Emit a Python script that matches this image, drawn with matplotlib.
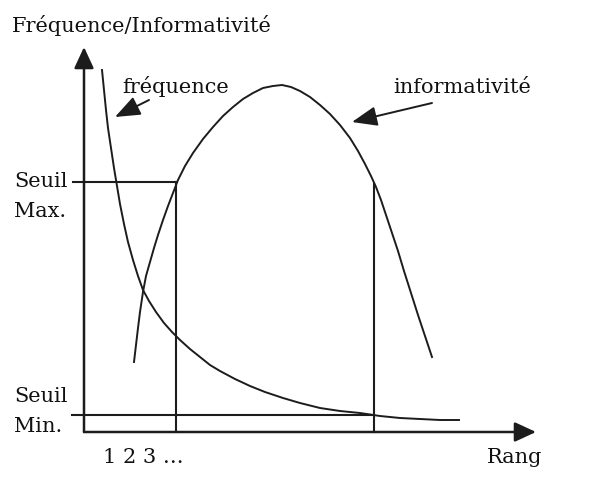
import matplotlib
matplotlib.use("Agg")
import matplotlib.pyplot as plt

# ---- data (diagram coordinates, y grows downward) ----
freq_x = [102, 104, 106, 108, 111, 114, 117, 120, 124, 128, 133, 138, 143, 149,
          156, 164, 172, 180, 190, 200, 210, 220, 235, 250, 265, 283, 300, 320,
          340, 360, 380, 400, 420, 440, 459]
freq_y = [70, 90, 110, 128, 148, 168, 186, 204, 224, 242, 260, 276, 290, 301,
          312, 323, 332, 340, 349, 357, 365, 371, 379, 386, 392, 398, 403, 408,
          411, 413, 416, 418, 419, 420, 420]

info_x = [134, 136, 138, 140, 143, 146, 150, 154, 158, 163, 168, 173, 178, 185,
          193, 203, 213, 223, 233, 243, 253, 263, 273, 282, 291, 300, 310, 320,
          330, 340, 350, 358, 365, 371, 376, 381, 386, 392, 398, 404, 411, 418,
          425, 432]
info_y = [362, 345, 328, 312, 292, 276, 262, 248, 235, 220, 206, 193, 180, 166,
          153, 139, 127, 116, 107, 99, 93, 88, 86, 85, 87, 91, 97, 105,
          114, 125, 138, 151, 164, 176, 187, 200, 215, 233, 251, 271, 293, 315,
          336, 357]

origin = (84, 432)
x_end = 536
y_end = 47
seuil_max = 182
seuil_min = 415
rang_lo = 176
rang_hi = 374

title = "Fréquence/Informativité"
lbl_freq = "fréquence"
lbl_info = "informativité"
lbl_max = ["Seuil", "Max."]
lbl_min = ["Seuil", "Min."]
lbl_ranks = "1 2 3 \u2026"
lbl_rang = "Rang"

# ---- drawing ----
W, H = 592, 491
fig = plt.figure(figsize=(W / 100, H / 100), dpi=100)
ax = fig.add_axes([0, 0, 1, 1])
ax.set_xlim(0, W)
ax.set_ylim(H, 0)
ax.axis("off")

lc = "#1c1c1c"
fam = "DejaVu Serif"
fs = 15

# curves
ax.plot(freq_x, freq_y, color=lc, lw=1.4, solid_joinstyle="round")
ax.plot(info_x, info_y, color=lc, lw=1.4, solid_joinstyle="round")

# threshold lines
ax.plot([73, rang_lo], [seuil_max, seuil_max], color=lc, lw=1.5)
ax.plot([72, rang_hi], [seuil_min, seuil_min], color=lc, lw=1.5)
ax.plot([rang_lo, rang_lo], [seuil_max, origin[1]], color=lc, lw=1.5)
ax.plot([rang_hi, rang_hi], [seuil_max + 2, origin[1]], color=lc, lw=1.5)

# axes arrows
axprops = dict(arrowstyle="-|>,head_length=1.3,head_width=0.6", color=lc,
               lw=1.8, mutation_scale=10, shrinkA=0, shrinkB=0)
ax.annotate("", xy=(origin[0], y_end), xytext=origin, arrowprops=axprops)
ax.annotate("", xy=(x_end, origin[1]), xytext=origin, arrowprops=axprops)

# label arrows
lprops = dict(arrowstyle="-|>,head_length=1.4,head_width=0.55", color=lc,
              lw=1.4, mutation_scale=11, shrinkA=0, shrinkB=0)
ax.annotate("", xy=(115, 117), xytext=(149, 100), arrowprops=lprops)
ax.annotate("", xy=(352, 122), xytext=(432, 103), arrowprops=lprops)

# texts
tk = dict(family=fam, fontsize=fs, color="#111111")
ax.text(12, 32, title, va="baseline", ha="left", **tk)
ax.text(122, 93, lbl_freq, va="baseline", ha="left", **tk)
ax.text(393, 93, lbl_info, va="baseline", ha="left", **tk)
ax.text(14, 187, lbl_max[0], va="baseline", ha="left", **tk)
ax.text(14, 217, lbl_max[1], va="baseline", ha="left", **tk)
ax.text(14, 402, lbl_min[0], va="baseline", ha="left", **tk)
ax.text(14, 432, lbl_min[1], va="baseline", ha="left", **tk)
ax.text(103, 463, lbl_ranks, va="baseline", ha="left", **tk)
ax.text(487, 463, lbl_rang, va="baseline", ha="left", **tk)

fig.savefig("out.png", dpi=100, facecolor="white")
